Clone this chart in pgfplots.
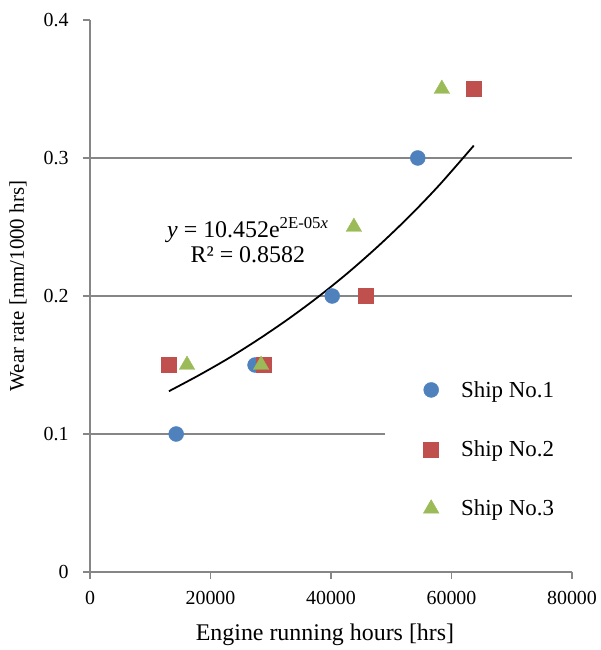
\documentclass[border=0pt]{standalone}
\usepackage{fontspec}
\setmainfont{Liberation Serif}
\usepackage{pgfplots}
\pgfplotsset{compat=1.18}
\definecolor{s1}{HTML}{4F81BD}
\definecolor{s2}{HTML}{C0504D}
\definecolor{s3}{HTML}{9BBB59}
\definecolor{axc}{HTML}{868686}
\pgfplotsset{
  mylegimg/.style={legend image code/.code={%
    \path[draw=none, fill=none] (0bp,0bp) -- (56bp,0bp);
    \draw[##1, /tikz/only marks] plot coordinates {(28bp,0bp)};}}
}
\begin{document}
\begin{tikzpicture}
\begin{axis}[
  scale only axis, width=482bp, height=552bp,
  xmin=0, xmax=80000, ymin=0, ymax=0.4,
  axis x line*=bottom, axis y line*=left,
  axis line style={axc, line width=1.3bp},
  every tick/.style={axc, line width=1.3bp},
  major tick length=7bp, tick align=outside,
  scaled x ticks=false, scaled y ticks=false,
  xtick={0,20000,40000,60000,80000},
  ytick={0,0.1,0.2,0.3,0.4},
  yticklabels={0,0.1,0.2,0.3,0.4},
  xticklabels={0,20000,40000,60000,80000},
  extra y ticks={0.1,0.2,0.3}, extra y tick labels={},
  extra y tick style={grid=major, major tick length=0pt},
  grid style={axc, line width=1.3bp},
  ticklabel style={font=\fontsize{20}{24}\selectfont, text=black},
  xticklabel style={yshift=-9bp},
  yticklabel style={xshift=-11bp},
  xlabel={Engine running hours [hrs]},
  ylabel={Wear rate [mm/1000 hrs]},
  xlabel style={font=\fontsize{24}{28}\selectfont, yshift=-12bp, xshift=-6bp},
  ylabel style={font=\fontsize{21}{25}\selectfont, yshift=3bp, xshift=10bp},
  legend style={at={(0.612,0.384)}, anchor=north west, draw=none, fill=white,
    font=\fontsize{23}{27}\selectfont, row sep=38bp, inner xsep=18bp, inner ysep=19bp},
  legend cell align=left,
  clip=false,
]
\addplot[only marks, mylegimg, mark=*, mark size=7.5bp, mark options={draw=s1, fill=s1}]
  coordinates {(14300,0.1) (27400,0.15) (40200,0.2) (54400,0.3)};
\addlegendentry{Ship No.1}
\addplot[only marks, mylegimg, mark=square*, mark size=7.5bp, mark options={draw=s2, fill=s2}]
  coordinates {(13100,0.15) (28900,0.15) (45800,0.2) (63700,0.35)};
\addlegendentry{Ship No.2}
\addplot[only marks, mylegimg, mark=triangle*, mark size=9bp, mark options={draw=s3, fill=s3}]
  coordinates {(16100,0.15) (28400,0.15) (43800,0.25) (58400,0.35)};
\addlegendentry{Ship No.3}
\addplot[black, line width=1.8bp, smooth, forget plot]
  coordinates {(13100,0.1310) (18000,0.1424) (23000,0.1549) (28000,0.1687)
   (33000,0.1836) (38000,0.1998) (43000,0.2175) (48000,0.2368)
   (53000,0.2577) (58000,0.2805) (63700,0.3090)};
\node[align=center, font=\fontsize{24}{25}\selectfont, inner sep=0pt]
  at (axis cs:26200,0.2406)
  {\textit{y} = 10.452e\textsuperscript{2E-05\textit{x}}\\R² = 0.8582};
\coordinate (ll) at (rel axis cs:0,0);
\coordinate (ur) at (rel axis cs:1,1);
\end{axis}
\pgfresetboundingbox
\path ([shift={(-90bp,-78bp)}]ll) rectangle ([shift={(29bp,20bp)}]ur);
\end{tikzpicture}
\end{document}
